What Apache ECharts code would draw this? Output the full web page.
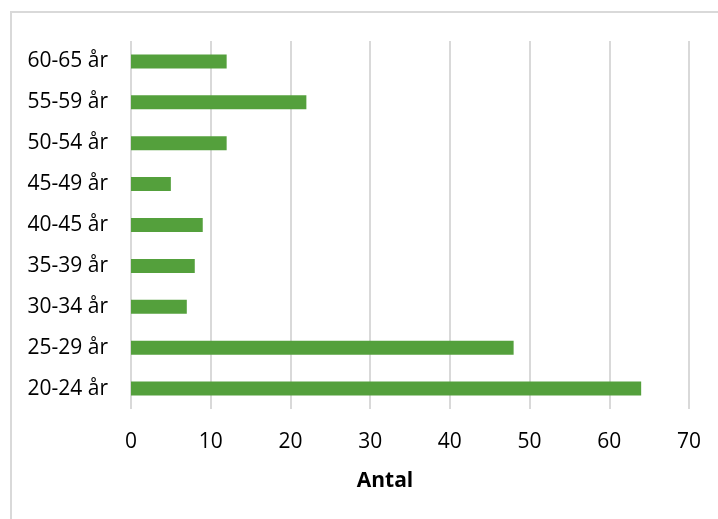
<!DOCTYPE html>
<html lang="sv">
<head>
    <meta charset="utf-8">
    <style>
        html, body { margin: 0; padding: 0; background: #fff; overflow: hidden; }
        #frame { position: absolute; left: 10px; top: 11px; width: 800px; height: 600px; border: 2px solid #d9d9d9; box-sizing: border-box; }
        #chart { position: absolute; left: 0; top: 0; width: 718px; height: 519px; }
    </style>
</head>
<body>
<div id="frame"></div>
<div id="chart"></div>
<script type="text/javascript" src="https://cdn.jsdelivr.net/npm/echarts@6/dist/echarts.min.js"></script>
<script type="text/javascript">

var ageGroups = ['20-24 år', '25-29 år', '30-34 år', '35-39 år', '40-45 år', '45-49 år', '50-54 år', '55-59 år', '60-65 år'];
var counts = [64, 48, 7, 8, 9, 5, 12, 22, 12];
var axisTitle = 'Antal';

var font = '"Open Sans", sans-serif';

var option = {
    backgroundColor: 'transparent',
    animation: false,
    grid: {
        left: 131,
        right: 29,
        top: 41,
        bottom: 110
    },
    xAxis: {
        type: 'value',
        min: 0,
        max: 70,
        interval: 10,
        name: axisTitle,
        nameLocation: 'middle',
        nameGap: 62,
        nameTextStyle: {
            fontFamily: font,
            fontSize: 21,
            fontWeight: 'bold',
            color: '#000',
            padding: [0, 50, 0, 0]
        },
        axisLine: { show: false },
        axisTick: { show: false },
        axisLabel: {
            margin: 23,
            fontFamily: font,
            fontSize: 21,
            color: '#000'
        },
        splitLine: {
            lineStyle: { color: '#d9d9d9', width: 2 }
        }
    },
    yAxis: {
        type: 'category',
        data: ageGroups,
        axisLine: { show: false },
        axisTick: { show: false },
        axisLabel: {
            margin: 23,
            fontFamily: font,
            fontSize: 21,
            color: '#000'
        }
    },
    series: [{
        type: 'bar',
        data: counts,
        barWidth: 14,
        itemStyle: { color: '#54a03c' }
    }]
};

var myChart = echarts.init(document.getElementById('chart'));
myChart.setOption(option);

</script>
</body>
</html>
